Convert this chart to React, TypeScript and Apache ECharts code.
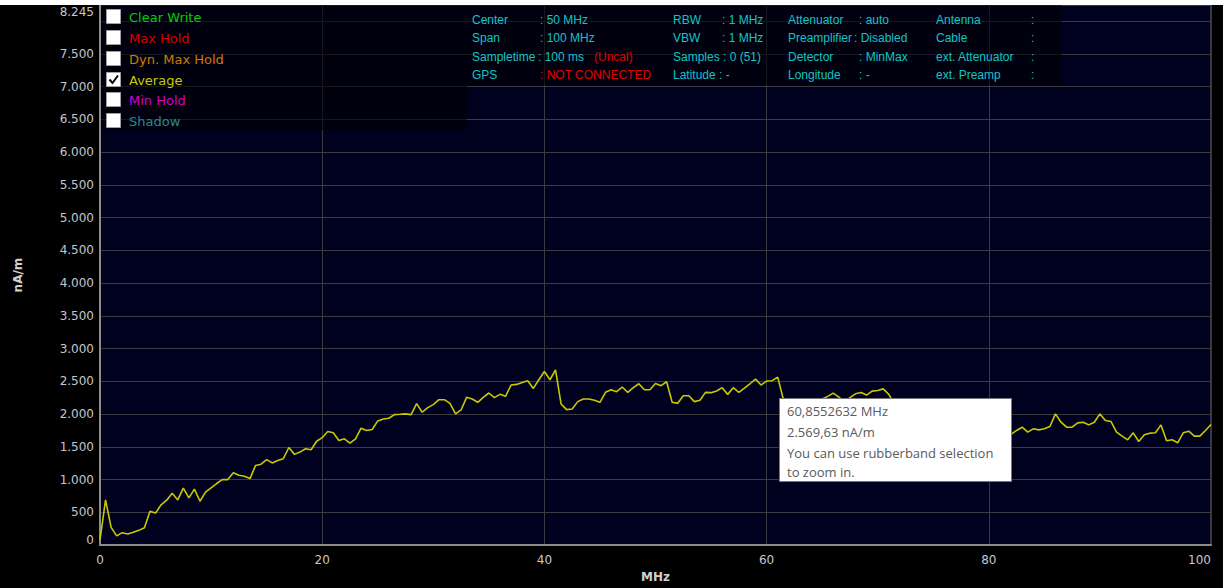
import React, { useEffect, useRef } from "react";
import * as echarts from "echarts";

// ---- data (nA/m, Average trace, one sample every 0.5 MHz) ----
const FREQ_STEP_MHZ = 0.5;
const avg00to20 = [80, 690, 270, 140, 190, 170, 195, 225, 265, 515, 490, 615, 685, 790, 690, 870, 720, 855, 670, 810,
  875, 940, 1000, 1000, 1105, 1065, 1050, 1015, 1215, 1235, 1305, 1255, 1290, 1320, 1490, 1385, 1420, 1470, 1455, 1585, 1640];
const avg20to40 = [1735, 1715, 1597, 1622, 1557, 1622, 1784, 1749, 1764, 1896, 1926, 1936, 1992, 1997, 2003, 1992, 2160, 2028, 2099, 2144,
  2220, 2220, 2164, 2003, 2063, 2256, 2230, 2180, 2256, 2322, 2251, 2301, 2271, 2443, 2453, 2483, 2509, 2392, 2524, 2650];
const avg40to60 = [2524, 2676, 2155, 2068, 2078, 2190, 2230, 2230, 2210, 2180, 2332, 2372, 2342, 2413, 2332, 2403, 2463, 2372, 2372, 2468,
  2433, 2494, 2180, 2164, 2281, 2281, 2190, 2210, 2332, 2327, 2352, 2403, 2301, 2403, 2332, 2397, 2463, 2534, 2443, 2504];
const avg60to80 = [2510, 2565, 2230, 2150, 2200, 2230, 2180, 2210, 2190, 2230, 2270, 2320, 2260, 2190, 2250, 2310, 2330, 2290, 2350, 2360,
  2385, 2300, 2150, 2080, 2010, 1980, 1950, 1990, 1900, 1870, 1920, 1850, 1800, 1830, 1780, 1820, 1760, 1700, 1750, 1720];
const avg80to100 = [1780, 1700, 1650, 1690, 1750, 1800, 1724, 1775, 1759, 1775, 1810, 2003, 1876, 1800, 1800, 1866, 1876, 1835, 1876, 2003,
  1901, 1886, 1724, 1663, 1607, 1714, 1582, 1683, 1709, 1714, 1835, 1592, 1607, 1562, 1714, 1739, 1663, 1663, 1749, 1840];

const X_MIN = 0;
const X_MAX = 100;
const X_INTERVAL = 20;
const Y_MIN = 0;
const Y_MAX = 8245;
const Y_INTERVAL = 500;

const legendNames = ["Clear Write", "Max Hold", "Dyn. Max Hold", "Average", "Min Hold", "Shadow"];
const legendColors = ["#00d000", "#d80000", "#d07a00", "#c8c800", "#d000d0", "#2a8a8a"];
const legendChecked = [false, false, false, true, false, false];

const infoCol1Labels = ["Center", "Span", "Sampletime", "GPS"];
const infoCol1Values = [": 50 MHz", ": 100 MHz", ": 100 ms", ": NOT CONNECTED"];
const infoCol2Labels = ["RBW", "VBW", "Samples : 0 (51)", "Latitude : -"];
const infoCol2Values = [": 1 MHz", ": 1 MHz", "", ""];
const infoCol3Labels = ["Attenuator", "Preamplifier", "Detector", "Longitude"];
const infoCol3Values = [": auto", ": Disabled", ": MinMax", ": -"];
const infoCol4Labels = ["Antenna", "Cable", "ext. Attenuator", "ext. Preamp"];

const tooltipLines = ["60,8552632 MHz", "2.569,63 nA/m", "You can use rubberband selection", "to zoom in."];

function fmtThousands(v: number): string {
  const s = Math.round(v).toString();
  return s.replace(/\B(?=(\d{3})+(?!\d))/g, ".");
}

export default function App() {
  const ref = useRef<HTMLDivElement>(null);

  useEffect(() => {
    if (!ref.current) return;
    const chart = echarts.init(ref.current, null, { renderer: "svg" });

    const values = [...avg00to20, ...avg20to40, ...avg40to60, ...avg60to80, ...avg80to100];
    const data = values.map((v, i) => [i * FREQ_STEP_MHZ, v]);

    const labelColor = "#c6c6ce";
    const axisFont = "DejaVu Sans";
    const infoColor = "#12c4c8";
    const infoFont = '12px "Liberation Sans", Arial, sans-serif';
    const Z = 100;

    const graphics: any[] = [];
    graphics.push({ type: "rect", z: Z, shape: { x: 0, y: 0, width: 1223, height: 5 }, style: { fill: "#ffffff" } });
    graphics.push({ type: "rect", z: Z, shape: { x: 101, y: 5, width: 366, height: 125 }, style: { fill: "rgba(0,0,4,0.6)" } });
    graphics.push({ type: "rect", z: Z, shape: { x: 467, y: 5, width: 595, height: 80 }, style: { fill: "rgba(0,0,4,0.6)" } });

    const rowY = [17, 38, 59, 80, 100, 121];
    legendNames.forEach((name, i) => {
      graphics.push({
        type: "rect", z: Z + 1,
        shape: { x: 106.5, y: rowY[i] - 7.5, width: 14, height: 14 },
        style: { fill: "#ffffff", stroke: "#a0a0a0", lineWidth: 1 },
      });
      if (legendChecked[i]) {
        graphics.push({
          type: "polyline", z: Z + 2,
          shape: { points: [[109.5, rowY[i] - 0.5], [112.5, rowY[i] + 3], [118, rowY[i] - 4.5]] },
          style: { stroke: "#000000", lineWidth: 2, fill: null },
        });
      }
      graphics.push({
        type: "text", z: Z + 1, x: 129, y: rowY[i],
        style: { text: name, fill: legendColors[i], font: '13px "DejaVu Sans", sans-serif', verticalAlign: "middle", align: "left" },
      });
    });

    const infoRowY = [19.5, 38, 56.5, 75];
    const addInfo = (text: string, x: number, y: number, color = infoColor) => {
      if (!text) return;
      graphics.push({
        type: "text", z: Z + 1, x, y,
        style: { text, fill: color, font: infoFont, verticalAlign: "middle", align: "left" },
      });
    };
    infoRowY.forEach((y, r) => {
      addInfo(infoCol1Labels[r], 472, y);
      addInfo(infoCol1Values[r], r === 2 ? 538 : 540, y, r === 3 ? "#e00000" : infoColor);
      if (r === 2) addInfo("(Uncal)", 594, y, "#e00000");
      addInfo(infoCol2Labels[r], 673, y);
      addInfo(infoCol2Values[r], 722, y);
      addInfo(infoCol3Labels[r], 788, y);
      addInfo(infoCol3Values[r], r === 1 ? 854 : 859, y);
      addInfo(infoCol4Labels[r], 936, y);
      addInfo(":", 1031, y);
    });

    graphics.push({
      type: "rect", z: Z + 5,
      shape: { x: 779.5, y: 398.5, width: 232, height: 83 },
      style: { fill: "#ffffff", stroke: "#767676", lineWidth: 1 },
    });
    const tipY = [411, 432, 453, 472];
    tooltipLines.forEach((t, i) => {
      graphics.push({
        type: "text", z: Z + 6, x: 787, y: tipY[i],
        style: { text: t, fill: "#5a5a5a", font: '13px "Open Sans", sans-serif', verticalAlign: "middle", align: "left" },
      });
    });

    const option: any = {
      animation: false,
      backgroundColor: "#000000",
      grid: {
        left: 100, right: 12, top: 5, bottom: 41,
        show: true, backgroundColor: "#00001f", borderColor: "#6a6a6a", borderWidth: 1,
      },
      xAxis: {
        type: "value", min: X_MIN, max: X_MAX, interval: X_INTERVAL,
        name: "MHz", nameLocation: "middle", nameGap: 22,
        nameTextStyle: { color: "#d0d0d0", fontFamily: axisFont, fontSize: 12, fontWeight: "bold" },
        axisLine: { show: true, lineStyle: { color: "#8c8c8c", width: 2 } },
        axisTick: { show: false },
        axisLabel: { color: labelColor, fontFamily: axisFont, fontSize: 12, margin: 9, alignMaxLabel: "right" },
        splitLine: { show: true, lineStyle: { color: "#3a3a42", width: 1 } },
      },
      yAxis: {
        type: "value", min: Y_MIN, max: Y_MAX, interval: Y_INTERVAL,
        name: "nA/m", nameLocation: "middle", nameGap: 76,
        nameTextStyle: { color: "#d0d0d0", fontFamily: axisFont, fontSize: 12, fontWeight: "bold" },
        axisLine: { show: true, lineStyle: { color: "#8c8c8c", width: 2 } },
        axisTick: { show: false },
        axisLabel: {
          color: labelColor, fontFamily: axisFont, fontSize: 12, margin: 6,
          formatter: (v: number) => {
            if (v === Y_MAX) return "{top|" + fmtThousands(v) + "}";
            if (v === 0) return "{bot|0}";
            if (v > Y_MAX - Y_INTERVAL) return "";
            return fmtThousands(v);
          },
          rich: {
            top: { padding: [14, 0, 0, 0], color: labelColor, fontFamily: axisFont, fontSize: 12 },
            bot: { padding: [0, 0, 10, 0], color: labelColor, fontFamily: axisFont, fontSize: 12 },
          },
        },
        splitLine: { show: true, lineStyle: { color: "#3a3a42", width: 1 } },
      },
      series: [
        {
          type: "line", name: "Average", data, symbol: "none", showSymbol: false, silent: true,
          lineStyle: { color: "#c8c800", width: 1.6 },
        },
      ],
      graphic: graphics,
    };

    chart.setOption(option);
    return () => chart.dispose();
  }, []);

  return (
    <div style={{ position: "absolute", left: 0, top: 0, width: 1223, height: 588, background: "#000" }}>
      <div ref={ref} style={{ width: 1223, height: 588 }} />
    </div>
  );
}
